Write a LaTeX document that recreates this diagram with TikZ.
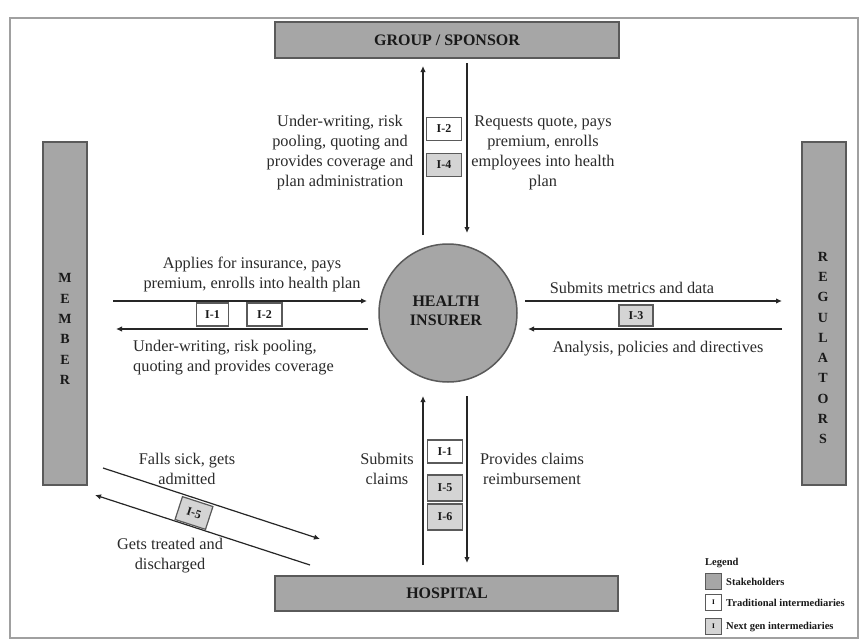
\documentclass[tikz,border=0pt]{standalone}
\usepackage{fontspec}
\setmainfont{Liberation Serif}
\usetikzlibrary{arrows.meta}
\definecolor{stk}{HTML}{A6A6A6}
\definecolor{stkb}{HTML}{5A5A5A}
\definecolor{ngf}{HTML}{D4D4D4}
\definecolor{txt}{HTML}{2B2B2B}
\definecolor{frm}{HTML}{A0A0A0}
\begin{document}
\begin{tikzpicture}[x=1pt,y=-1pt,
 stake/.style={draw=stkb, line width=1.5pt, fill=stk, inner sep=0pt},
 stxt/.style={align=center, inner sep=0pt, text=black!90, font=\fontsize{16}{18}\selectfont\bfseries},
 vtxt/.style={align=center, inner sep=0pt, text=black!90, font=\fontsize{14}{20.3}\selectfont\bfseries},
 ibox/.style={draw=stkb, line width=1.2pt, fill=white, minimum width=35pt, minimum height=23pt, inner sep=0pt, text=black!90, font=\fontsize{12}{12}\selectfont\bfseries},
 ngbox/.style={ibox, fill=ngf},
 lbl/.style={align=center, text=txt, inner sep=0pt, font=\fontsize{16.3}{20}\selectfont},
 flow/.style={line width=1.2pt, draw=black!85},
 arr/.style={flow, -{Latex[length=6pt,width=5.5pt]}},
 lgbox/.style={draw=stkb, line width=1pt, minimum size=16pt, inner sep=0pt, font=\fontsize{7}{7}\selectfont\bfseries},
 lgtxt/.style={anchor=west, inner sep=0pt, text=black!90, font=\fontsize{10.5}{11}\selectfont\bfseries},
]
\useasboundingbox (0,0) rectangle (863,643);
\fill[white] (0,0) rectangle (863,643);
% frame
\draw[frm, line width=1.6pt] (10,18) rectangle (858,638);

% stakeholders
\node[stake, minimum width=344pt, minimum height=36pt] (grp) at (447,40) {};
\node[stxt] (grpt) at (447,40) {GROUP / SPONSOR};
\node[stake, minimum width=343pt, minimum height=35pt] (hos) at (446.5,593.5) {};
\node[stxt] (host) at (447,593) {HOSPITAL};
\node[stake, minimum width=44pt, minimum height=343pt] (mem) at (65,313.5) {};
\node[vtxt] (memt) at (65,329) {M\\E\\M\\B\\E\\R};
\node[stake, minimum width=44pt, minimum height=343pt] (reg) at (824,313.5) {};
\node[vtxt] (regt) at (823,348) {R\\E\\G\\U\\L\\A\\T\\O\\R\\S};

% health insurer
\node[circle, draw=stkb, line width=1.5pt, fill=stk, minimum size=138pt, inner sep=0pt] (hi) at (448,313) {};
\node[stxt, font=\fontsize{16}{18.5}\selectfont\bfseries] (hit) at (446,311) {HEALTH\\INSURER};

% connector end points
\coordinate (t1a) at (423,235); \coordinate (t1b) at (423,66);
\coordinate (t2a) at (467,63);  \coordinate (t2b) at (467,233);
\coordinate (l1a) at (113,301); \coordinate (l1b) at (367,301);
\coordinate (l2a) at (368,329); \coordinate (l2b) at (116,329);
\coordinate (r1a) at (525,301); \coordinate (r1b) at (782,301);
\coordinate (r2a) at (782,329); \coordinate (r2b) at (528,329);
\coordinate (b1a) at (423,565); \coordinate (b1b) at (423,396);
\coordinate (b2a) at (467,396); \coordinate (b2b) at (467,563);
\coordinate (d1a) at (103,468); \coordinate (d1b) at (320,539);
\coordinate (d2a) at (310,565); \coordinate (d2b) at (95,495);

\draw[arr] (t1a) -- (t1b);
\draw[arr] (t2a) -- (t2b);
\draw[arr] (l1a) -- (l1b);
\draw[arr] (l2a) -- (l2b);
\draw[arr] (r1a) -- (r1b);
\draw[arr] (r2a) -- (r2b);
\draw[arr] (b1a) -- (b1b);
\draw[arr] (b2a) -- (b2b);
\draw[arr] (d1a) -- (d1b);
\draw[arr] (d2a) -- (d2b);

% intermediaries
\node[ibox] (top12) at (444,129) {I-2};
\node[ngbox] (top14) at (444,165) {I-4};
\node[ibox, minimum width=32pt] (lef11) at (212.5,314.5) {I-1};
\node[ibox] (lef12) at (264.5,314.5) {I-2};
\node[ngbox, minimum width=34pt, minimum height=21pt] (rig13) at (636,315.5) {I-3};
\node[ibox] (bot11) at (445,451.5) {I-1};
\node[ngbox, minimum height=26pt] (bot15) at (445,488) {I-5};
\node[ngbox, minimum height=26pt] (bot16) at (445,517) {I-6};
\node[ngbox, minimum width=32pt, minimum height=24pt, rotate=-18] (dia15) at (194,513) {I-5};

% labels
\node[lbl] (tl) at (340,153) {Under-writing, risk\\pooling, quoting and\\provides coverage and\\plan administration};
\node[lbl] (tr) at (543,153) {Requests quote, pays\\premium, enrolls\\employees into health\\plan};
\node[lbl] (lt) at (252,274) {Applies for insurance, pays\\premium, enrolls into health plan};
\node[lbl, align=left, anchor=west] (lb) at (133,358) {Under-writing, risk pooling,\\quoting and provides coverage};
\node[lbl] (rt) at (632,288) {Submits metrics and data};
\node[lbl] (rb) at (658,349) {Analysis, policies and directives};
\node[lbl] (bl) at (387,469) {Submits\\claims};
\node[lbl] (br) at (532,469) {Provides claims\\reimbursement};
\node[lbl] (dt) at (187,469) {Falls sick, gets\\admitted};
\node[lbl] (db) at (170,556) {Gets treated and\\discharged};

% legend
\node[lgtxt] (lgh) at (705,563) {Legend};
\node[lgbox, fill=stk] (lg1) at (713.5,581.5) {};
\node[lgtxt] (lg1t) at (726,582) {Stakeholders};
\node[lgbox, fill=white] (lg2) at (713.5,602.5) {I};
\node[lgtxt] (lg2t) at (726,603) {Traditional intermediaries};
\node[lgbox, fill=ngf] (lg3) at (713.5,626.5) {I};
\node[lgtxt] (lg3t) at (726,627) {Next gen intermediaries};
\end{tikzpicture}
\end{document}
